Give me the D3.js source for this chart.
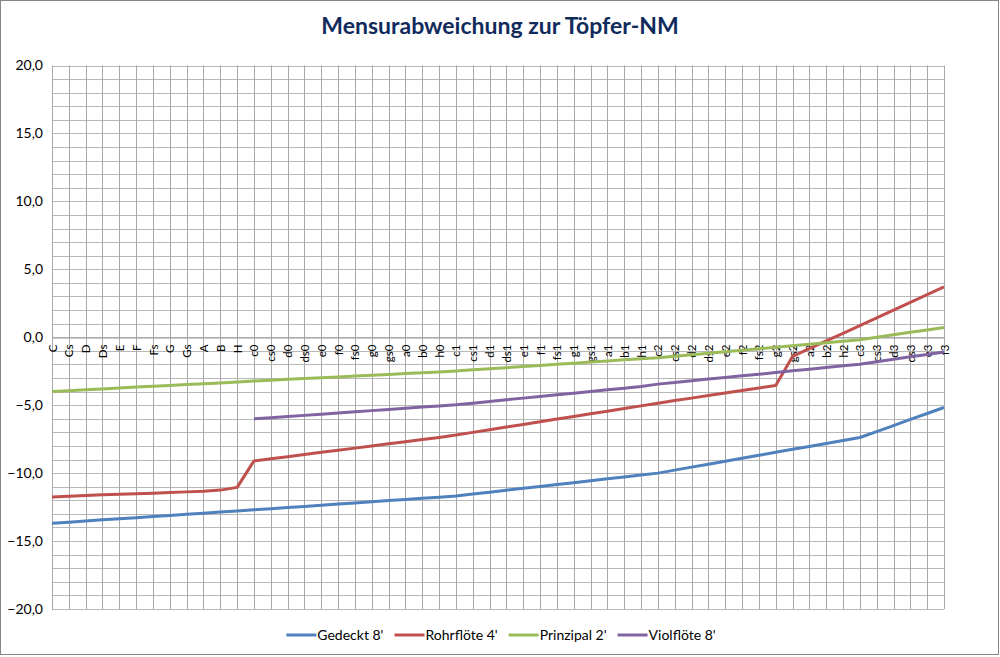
<!DOCTYPE html>
<html>
<head>
<meta charset="utf-8">
<script src="https://cdn.jsdelivr.net/npm/d3@7"></script>
<style>
  body { margin: 0; background: #fff; }
  svg text { font-family: Lato, "Open Sans", sans-serif; }
</style>
</head>
<body>
<div id="chart" style="width:1000px;height:657px"></div>
<script>
// Kategorien (Töne)
const notes = ["C","Cs","D","Ds","E","F","Fs","G","Gs","A","B","H",
  "c0","cs0","d0","ds0","e0","f0","fs0","g0","gs0","a0","b0","h0",
  "c1","cs1","d1","ds1","e1","f1","fs1","g1","gs1","a1","b1","h1",
  "c2","cs2","d2","ds2","e2","f2","fs2","g2","gs2","a2","b2","h2",
  "c3","cs3","d3","ds3","e3","f3"];

const gedeckt8 = [-13.69,-13.61,-13.53,-13.44,-13.36,-13.28,-13.20,-13.11,-13.03,-12.95,-12.86,-12.78,
  -12.70,-12.62,-12.53,-12.45,-12.36,-12.28,-12.19,-12.11,-12.02,-11.94,-11.85,-11.77,
  -11.68,-11.54,-11.40,-11.26,-11.12,-10.98,-10.84,-10.70,-10.56,-10.42,-10.28,-10.14,
  -10.00,-9.78,-9.56,-9.35,-9.13,-8.91,-8.69,-8.47,-8.25,-8.04,-7.82,-7.60,
  -7.38,-6.94,-6.50,-6.05,-5.61,-5.17];

const rohrfloete4 = [-11.75,-11.70,-11.65,-11.60,-11.56,-11.52,-11.48,-11.43,-11.38,-11.33,-11.25,-11.05,
  -9.10,-8.94,-8.79,-8.63,-8.47,-8.31,-8.16,-8.00,-7.84,-7.69,-7.53,-7.37,
  -7.20,-7.00,-6.81,-6.61,-6.42,-6.22,-6.02,-5.83,-5.63,-5.44,-5.24,-5.05,
  -4.85,-4.66,-4.48,-4.29,-4.11,-3.92,-3.74,-3.55,-1.41,-0.84,-0.27,0.29,
  0.86,1.43,2.00,2.57,3.13,3.70];

const prinzipal2 = [-3.99,-3.93,-3.87,-3.80,-3.74,-3.67,-3.61,-3.55,-3.48,-3.42,-3.36,-3.29,
  -3.22,-3.16,-3.10,-3.04,-2.98,-2.92,-2.86,-2.80,-2.74,-2.67,-2.61,-2.55,
  -2.48,-2.40,-2.32,-2.24,-2.16,-2.08,-1.99,-1.91,-1.83,-1.75,-1.66,-1.58,
  -1.50,-1.39,-1.28,-1.17,-1.06,-0.95,-0.84,-0.73,-0.62,-0.51,-0.40,-0.29,
  -0.18,0.00,0.18,0.36,0.54,0.72];

// Violflöte beginnt erst bei c0
const violfloete8 = [null,null,null,null,null,null,null,null,null,null,null,null,
  -6.00,-5.92,-5.83,-5.75,-5.66,-5.57,-5.49,-5.40,-5.32,-5.23,-5.14,-5.06,
  -4.97,-4.85,-4.73,-4.60,-4.48,-4.36,-4.24,-4.12,-3.99,-3.87,-3.75,-3.63,
  -3.45,-3.33,-3.21,-3.08,-2.96,-2.84,-2.72,-2.60,-2.47,-2.35,-2.23,-2.10,
  -1.98,-1.80,-1.62,-1.44,-1.27,-1.09];

const seriesNames = ["Gedeckt 8'", "Rohrflöte 4'", "Prinzipal 2'", "Violflöte 8'"];
const seriesColors = ["#4F81BD", "#C0504D", "#9BBB59", "#8064A2"];
const seriesValues = [gedeckt8, rohrfloete4, prinzipal2, violfloete8];
const yTicks = [-20, -15, -10, -5, 0, 5, 10, 15, 20];

const W = 1000, H = 657;
const margin = { top: 65.5, right: 56, bottom: 48, left: 52 };

const svg = d3.select("#chart").append("svg")
  .attr("width", W)
  .attr("height", H);

// Rahmen
svg.append("rect")
  .attr("x", 0.5).attr("y", 0.5)
  .attr("width", W - 2).attr("height", 654)
  .attr("fill", "#fff")
  .attr("stroke", "#868686");

// Titel
svg.append("text")
  .attr("x", 500).attr("y", 34)
  .attr("text-anchor", "middle")
  .style("font-size", "23px")
  .style("font-weight", "bold")
  .style("fill", "#102A5C")
  .text("Mensurabweichung zur Töpfer-NM");

const x = d3.scalePoint()
  .domain(notes)
  .range([margin.left, W - margin.right]);

const y = d3.scaleLinear()
  .domain([-20, 20])
  .range([609, margin.top]);

const g = svg.append("g");

// horizontale Gitterlinien (jede Einheit)
g.append("g")
  .selectAll("line")
  .data(d3.range(-20, 21, 1))
  .join("line")
  .attr("x1", margin.left).attr("x2", W - margin.right)
  .attr("y1", d => Math.round(y(d)) + 0.5)
  .attr("y2", d => Math.round(y(d)) + 0.5)
  .attr("stroke", "#b8b8b8")
  .attr("stroke-width", 1);

// vertikale Gitterlinien (jede Kategorie)
g.append("g")
  .selectAll("line")
  .data(notes)
  .join("line")
  .attr("x1", d => Math.round(x(d)) + 0.5)
  .attr("x2", d => Math.round(x(d)) + 0.5)
  .attr("y1", y(20)).attr("y2", y(-20))
  .attr("stroke", "#a8a8a8")
  .attr("stroke-width", 1);

// Y-Achse
const fmt = d3.formatLocale({ decimal: ",", thousands: ".", grouping: [3], currency: ["", "€"] }).format(".1f");
const yAxis = svg.append("g")
  .attr("transform", `translate(${margin.left},0)`)
  .call(d3.axisLeft(y).tickValues(yTicks).tickFormat(d => fmt(d)).tickSize(0).tickPadding(9));
yAxis.select(".domain").remove();
yAxis.selectAll("text")
  .style("font-size", "14px")
  .style("font-family", "Lato, sans-serif")
  .style("fill", "#000");

// X-Achse bei 0 mit gedrehten Beschriftungen
const xAxis = svg.append("g")
  .attr("transform", `translate(0,${Math.round(y(0)) + 0.5})`)
  .call(d3.axisBottom(x).tickSize(0).tickPadding(0));
xAxis.select(".domain").attr("stroke", "#9a9a9a");
xAxis.selectAll("text")
  .attr("transform", "rotate(-90)")
  .attr("x", -7)
  .attr("y", 0)
  .attr("dy", "0.35em")
  .style("text-anchor", "end")
  .style("font-size", "11.5px")
  .style("font-family", "Lato, sans-serif")
  .style("fill", "#000");

// Linien
const line = d3.line()
  .defined(d => d !== null)
  .x((d, i) => x(notes[i]))
  .y(d => y(d));

seriesValues.forEach((vals, idx) => {
  svg.append("path")
    .datum(vals)
    .attr("fill", "none")
    .attr("stroke", seriesColors[idx])
    .attr("stroke-width", 3)
    .attr("stroke-linejoin", "round")
    .attr("d", line);
});

// Legende
const legend = svg.append("g");
let lx = 0;
seriesNames.forEach((name, idx) => {
  const item = legend.append("g").attr("transform", `translate(${lx},0)`);
  item.append("line")
    .attr("x1", 0).attr("x2", 30)
    .attr("y1", 635).attr("y2", 635)
    .attr("stroke", seriesColors[idx])
    .attr("stroke-width", 3);
  const t = item.append("text")
    .attr("x", 31).attr("y", 635)
    .attr("dy", "0.35em")
    .style("font-size", "14px")
    .style("fill", "#000")
    .text(name);
  lx += 31 + t.node().getComputedTextLength() + 11;
});
const legW = lx - 11;
legend.attr("transform", `translate(${(W - legW) / 2 + 1},0)`);
</script>
</body>
</html>
